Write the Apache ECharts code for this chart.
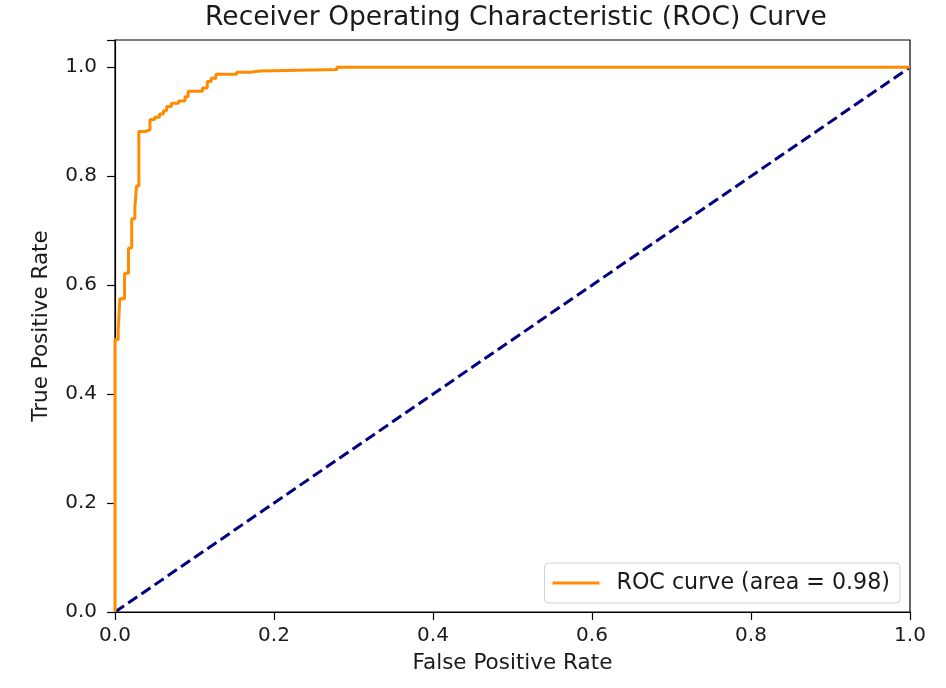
<!DOCTYPE html>
<html>
<head>
<meta charset="utf-8">
<script src="https://cdn.jsdelivr.net/npm/echarts@6/dist/echarts.min.js"></script>
<style>
  html, body { margin: 0; padding: 0; background: #fff; }
  #chart { width: 946px; height: 688px; }
</style>
</head>
<body>
<div id="chart"></div>
<script>
// ROC curve corners
var fprValues = [0, 0, 0.004, 0.004, 0.006, 0.006, 0.012, 0.012, 0.017, 0.017,
    0.021, 0.021, 0.025, 0.025, 0.027, 0.027, 0.030, 0.030, 0.038, 0.038,
    0.044, 0.044, 0.050, 0.050, 0.056, 0.056, 0.061, 0.061, 0.065, 0.065,
    0.071, 0.071, 0.080, 0.080, 0.088, 0.088, 0.092, 0.092, 0.110, 0.110,
    0.116, 0.116, 0.121, 0.121, 0.127, 0.127, 0.134, 0.153, 0.153, 0.170,
    0.170, 0.182, 0.182, 0.279, 0.279, 1.0];
var tprValues = [0, 0.500, 0.500, 0.515, 0.515, 0.575, 0.575, 0.622, 0.622, 0.668,
    0.668, 0.722, 0.722, 0.742, 0.742, 0.782, 0.782, 0.882, 0.882, 0.885,
    0.885, 0.904, 0.904, 0.908, 0.908, 0.914, 0.914, 0.920, 0.920, 0.928,
    0.928, 0.934, 0.934, 0.938, 0.938, 0.946, 0.946, 0.956, 0.956, 0.962,
    0.962, 0.974, 0.974, 0.980, 0.980, 0.987, 0.987, 0.987, 0.991, 0.991,
    0.993, 0.993, 0.996, 0.996, 1.0, 1.0];
// chance line
var chanceX = [0, 1];
var chanceY = [0, 1];
var tickLabels = ['0.0', '0.2', '0.4', '0.6', '0.8', '1.0'];
var rocName = 'ROC curve (area = 0.98)';

var zip = function (xs, ys) {
    return xs.map(function (x, i) { return [x, ys[i]]; });
};
// only label the 0.2 steps, not the 1.05 top of the y axis
var tickFmt = function (v) {
    var k = Math.round(v / 0.2);
    return Math.abs(v - k * 0.2) < 1e-6 ? tickLabels[k] : '';
};

var FONT = 'DejaVu Sans';
var TXT = '#1a1a1a';

var axisCommon = {
    type: 'value',
    min: 0,
    interval: 0.2,
    nameLocation: 'middle',
    nameTextStyle: { fontFamily: FONT, fontSize: 21.5, color: TXT },
    axisLine: { show: true, lineStyle: { color: '#000', width: 1.2 } },
    axisTick: { show: true, inside: false, length: 8, lineStyle: { color: '#000', width: 1.2 } },
    axisLabel: { fontFamily: FONT, fontSize: 20, color: TXT, formatter: tickFmt },
    splitLine: { show: false }
};

var myChart = echarts.init(document.getElementById('chart'));
myChart.setOption({
    backgroundColor: '#fff',
    animation: false,
    title: {
        text: 'Receiver Operating Characteristic (ROC) Curve',
        left: 511,
        textAlign: 'center',
        top: 0,
        textStyle: { fontFamily: FONT, fontSize: 26.5, fontWeight: 'normal', color: TXT }
    },
    grid: {
        left: 115,
        right: 36,
        top: 40,
        bottom: 76,
        show: true,
        borderColor: '#000',
        borderWidth: 1.2,
        containLabel: false
    },
    legend: {
        data: [{ name: rocName, icon: 'rect' }],
        right: 46,
        bottom: 85,
        padding: [9, 10, 9, 8],
        itemWidth: 47,
        itemHeight: 3,
        borderColor: '#d0d0d0',
        borderWidth: 1,
        borderRadius: 4,
        backgroundColor: 'rgba(255,255,255,0.8)',
        textStyle: { fontFamily: FONT, fontSize: 22.2, color: TXT, padding: [0, 0, 0, 12] }
    },
    xAxis: Object.assign({}, axisCommon, {
        max: 1,
        name: 'False Positive Rate',
        nameGap: 40,
        axisLabel: Object.assign({}, axisCommon.axisLabel, { margin: 14 })
    }),
    yAxis: Object.assign({}, axisCommon, {
        max: 1.05,
        name: 'True Positive Rate',
        nameGap: 63,
        axisLabel: Object.assign({}, axisCommon.axisLabel, { margin: 18 })
    }),
    series: [
        {
            name: rocName,
            type: 'line',
            data: zip(fprValues, tprValues),
            symbol: 'none',
            z: 3,
            lineStyle: { color: '#ff8c00', width: 3 },
            itemStyle: { color: '#ff8c00' }
        },
        {
            name: 'chance',
            type: 'line',
            data: zip(chanceX, chanceY),
            symbol: 'none',
            z: 2,
            lineStyle: { color: '#000080', width: 3, type: [11, 5] },
            itemStyle: { color: '#000080' }
        }
    ]
});
</script>
</body>
</html>
